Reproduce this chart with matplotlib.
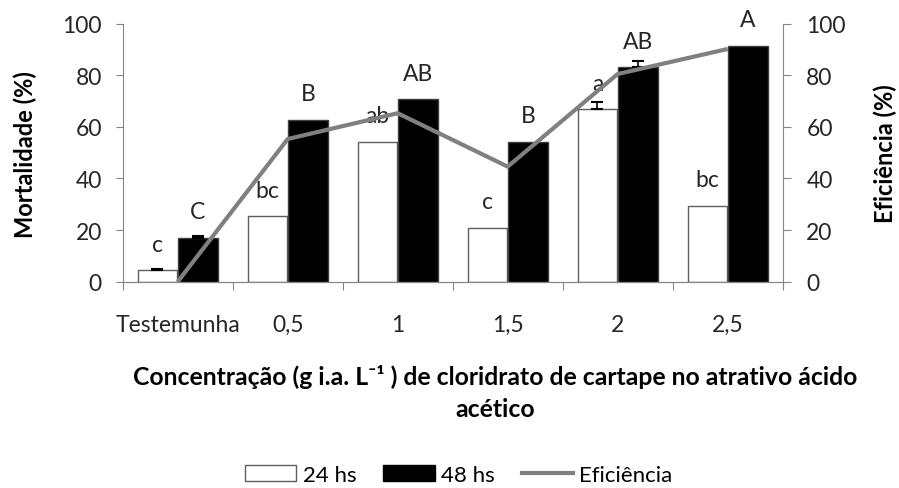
import numpy as np
import matplotlib.pyplot as plt
from matplotlib.patches import Patch
from matplotlib.lines import Line2D

plt.rcParams['font.family'] = ['Lato', 'DejaVu Sans']

# data
categories = ["Testemunha", "0,5", "1", "1,5", "2", "2,5"]
mort_24 = [4.5, 25.5, 54.3, 20.9, 66.8, 29.5]
mort_48 = [17.0, 62.8, 70.8, 54.3, 83.1, 91.5]
err_24 = [0.6, 0.0, 0.0, 0.0, 2.7, 0.0]
err_48 = [0.8, 0.0, 0.0, 0.0, 2.3, 0.0]
eficiencia = [0.0, 55.3, 65.3, 44.6, 80.5, 90.2]
letras_24 = ["c", "bc", "ab", "c", "a", "bc"]
letras_48 = ["C", "B", "AB", "B", "AB", "A"]

axis_grey = "#868686"
text_col = "#262626"
fs = 16.5

fig = plt.figure(figsize=(8.99, 4.89), dpi=100)
ax = fig.add_axes([0.1365, 0.4219, 0.7341, 0.5276])
ax2 = ax.twinx()

x = np.arange(len(categories))
w = 0.36
off = 0.184

ax.bar(x - off, mort_24, w, color="white", edgecolor="#5e5e5e", linewidth=1, zorder=2)
ax.bar(x + off, mort_48, w, color="black", edgecolor="#404040", linewidth=1, zorder=2)

#only draw the error bars that exist (upper half only)
for xs, vals, errs in [(x - off, mort_24, err_24), (x + off, mort_48, err_48)]:
    idx = [i for i, e in enumerate(errs) if e > 0]
    ax.errorbar(xs[idx], np.array(vals)[idx],
                yerr=[np.zeros(len(idx)), np.array(errs)[idx]],
                fmt="none", ecolor="black", elinewidth=1.2, capsize=4, capthick=1.5, zorder=3)

#significance letters above bars
for i in range(len(categories)):
    ax.annotate(letras_24[i], (x[i] - off, mort_24[i]), xytext=(0, 18.6), textcoords="offset points",
                ha="center", va="center", fontsize=fs, color=text_col, zorder=4)
    ax.annotate(letras_48[i], (x[i] + off, mort_48[i]), xytext=(0, 18.6), textcoords="offset points",
                ha="center", va="center", fontsize=fs, color=text_col, zorder=4)

ax2.plot(x, eficiencia, color="#808080", linewidth=3, solid_capstyle="butt", zorder=5)

for a in (ax, ax2):
    a.set_ylim(0, 100)
    a.set_yticks(np.arange(0, 101, 20))
    a.set_xlim(-0.5, len(categories) - 0.5)
    for s in a.spines.values():
        s.set_color(axis_grey)
    a.spines["top"].set_visible(False)

ax.spines["right"].set_visible(False)
ax2.spines["left"].set_visible(False)

ax.tick_params(axis="y", length=5, color=axis_grey, labelsize=fs, labelcolor=text_col, pad=10)
ax2.tick_params(axis="y", length=6, color=axis_grey, labelsize=fs, labelcolor=text_col, pad=11)

#x ticks: marks on group boundaries, labels on group centres
ax.set_xticks(np.arange(-0.5, len(categories), 1.0))
ax.set_xticklabels([])
ax.tick_params(axis="x", which="major", length=6, color=axis_grey)
ax.set_xticks(x, minor=True)
ax.set_xticklabels(categories, minor=True)
ax.tick_params(axis="x", which="minor", length=0, labelsize=fs, labelcolor=text_col, pad=23)

fig.text(25 / 899, 1 - 155 / 489, "Mortalidade (%)", rotation=90, ha="center", va="center",
         fontsize=17, fontweight="bold")
fig.text(885 / 899, 1 - 154 / 489, "Eficiência (%)", rotation=90, ha="center", va="center",
         fontsize=17, fontweight="bold")

fig.text(495 / 899, 1 - 377 / 489, "Concentração (g i.a. L⁻¹ ) de cloridrato de cartape no atrativo ácido",
         ha="center", va="center", fontsize=17.8, fontweight="bold")
fig.text(495 / 899, 1 - 410 / 489, "acético", ha="center", va="center", fontsize=17.8, fontweight="bold")

handles = [Patch(facecolor="white", edgecolor="#5e5e5e"),
           Patch(facecolor="black", edgecolor="black"),
           Line2D([0], [0], color="#808080", linewidth=3)]
fig.legend(handles, ["24 hs", "48 hs", "Eficiência"], loc="center", bbox_to_anchor=(459 / 899, 1 - 476 / 489),
           ncol=3, frameon=False, fontsize=16, handlelength=2.3, handleheight=0.75,
           handletextpad=0.3, columnspacing=1.2, borderpad=0)

fig.savefig("out.png", dpi=100)
